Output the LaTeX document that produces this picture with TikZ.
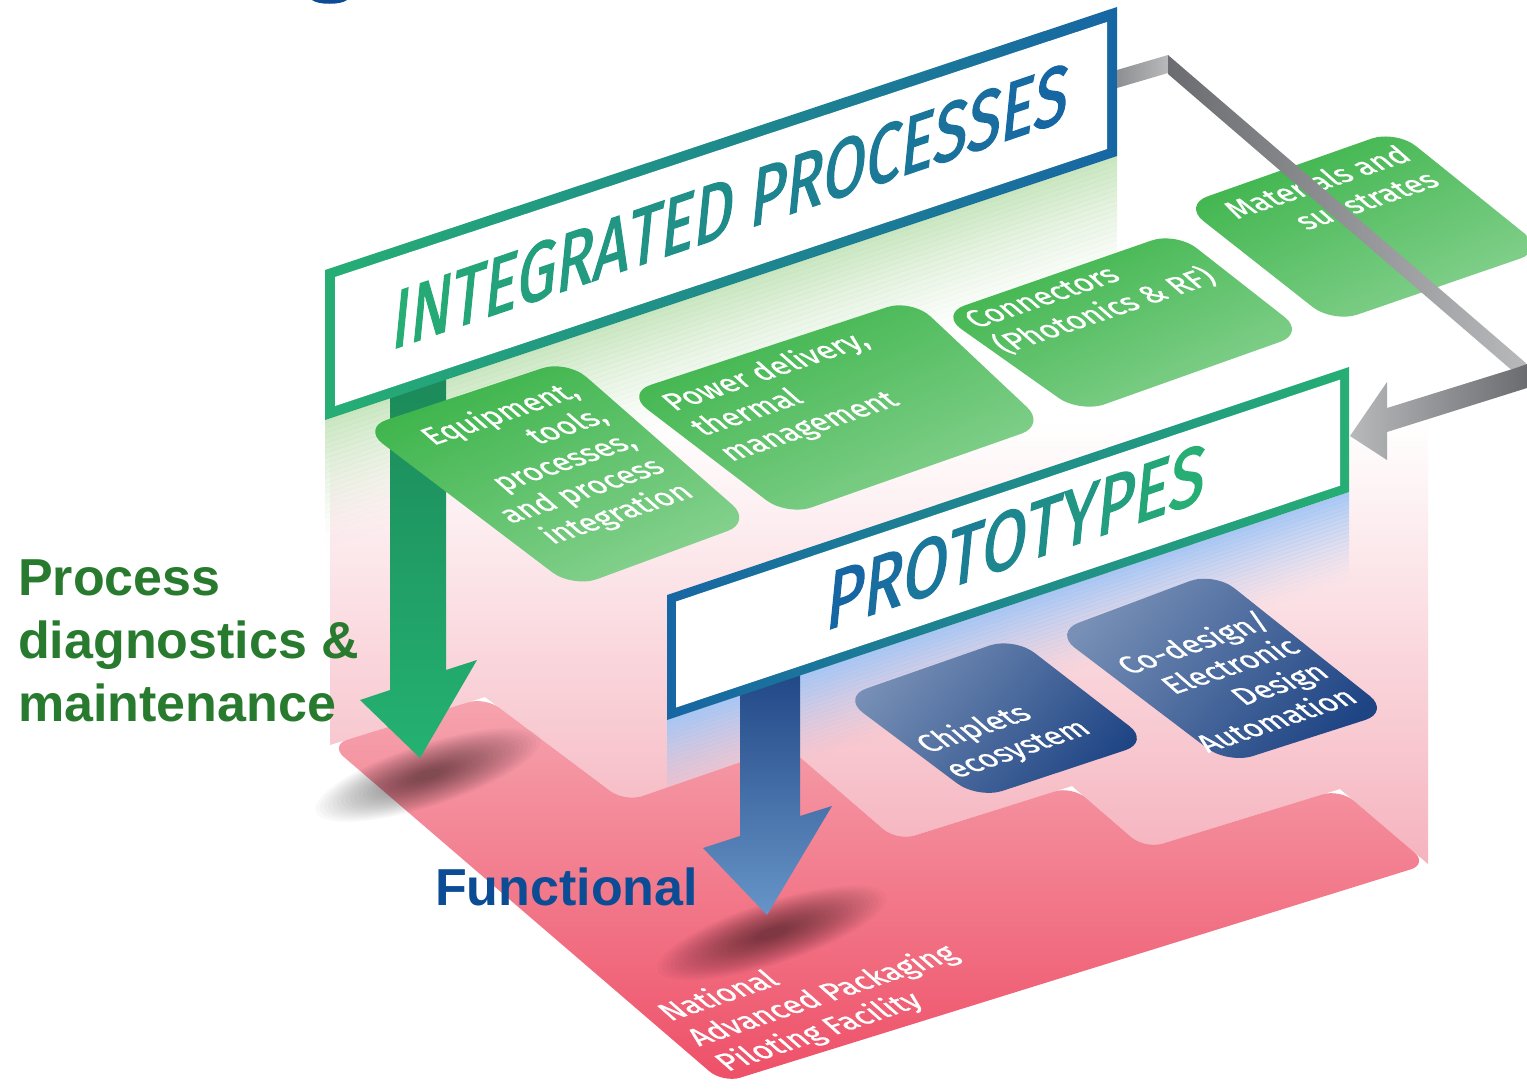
\documentclass[tikz,border=0pt]{standalone}
\usepackage{fontspec}
\setmainfont{Fira Sans}
\newfontfamily\arialfont{Liberation Sans}
\newfontfamily\signfont{Fira Sans}[FakeBold=2]
\newfontfamily\cardfont{Fira Sans}[FakeBold=0.8]
\definecolor{ipgreen}{HTML}{26AE74}
\definecolor{ipblue}{HTML}{1766A4}
\definecolor{cgA}{HTML}{3AB348}
\definecolor{cgB}{HTML}{88D291}
\definecolor{cbA}{HTML}{7890B6}
\definecolor{cbB}{HTML}{1E4484}
\definecolor{floorA}{HTML}{F6A4AF}
\definecolor{floorB}{HTML}{EE4F67}
\definecolor{curtain}{HTML}{F5B3BE}
\definecolor{bandgreen}{HTML}{C4E4BA}
\definecolor{bandblue}{HTML}{A6C6F4}
\definecolor{labgreen}{HTML}{287B2E}
\definecolor{labblue}{HTML}{0B4C94}
\definecolor{garrowA}{HTML}{1C8859}
\definecolor{garrowB}{HTML}{24B271}
\definecolor{barrowA}{HTML}{1E4483}
\definecolor{barrowB}{HTML}{6795C8}
\definecolor{grayA}{HTML}{6B6C70}
\definecolor{grayM}{HTML}{8E8F92}
\definecolor{grayB}{HTML}{B8B9BB}
\newcommand{\myip}[2]{\textcolor{ipblue!#1!ipgreen}{#2}}
\newcommand{\mypt}[2]{\textcolor{ipgreen!#1!ipblue}{#2}}
\begin{document}
\begin{tikzpicture}[x=1pt,y=-1pt,
  cardtext/.style={text=white, font=\cardfont\fontsize{21}{25.5}\selectfont, inner sep=0pt, transform shape},
  signtext/.style={font=\signfont\fontsize{84}{84}\selectfont, inner sep=0pt, transform shape},
  greencard/.style={rounded corners=26pt, top color=cgA, bottom color=cgB, shading angle=25},
  bluecard/.style={rounded corners=26pt, top color=cbA, bottom color=cbB, shading angle=50},
  label/.style={inner sep=0pt, font=\arialfont\bfseries\fontsize{52}{63}\selectfont},
  cardcm/.style={cm={1.36,0.462,-1.12,0.986,(0,0)}}
]
\fill[white] (0,0) rectangle (1527,1088);
\useasboundingbox (0,0) rectangle (1527,1088);

% partial glyph at the top edge
\fill[labblue] (312,0) .. controls (318,5) and (341,5) .. (347,0) -- cycle;

% translucent back curtain
\shade[top color=white, bottom color=curtain] (330,420) -- (1428,420) -- (1428,864) -- (1340,789) -- (1145,849) -- (1072,786) -- (897,841) -- (787,746) -- (625,802) -- (485,697) -- (330,745) -- cycle;

% green glow under the integrated processes sign
\foreach \i in {0,...,25}{
  \pgfmathsetmacro{\op}{0.9*(1-\i/26)^1.6}
  \fill[bandgreen, fill opacity=\op] (325,{418+5*\i}) -- (1117,{155+5*\i}) -- (1117,{160.4+5*\i}) -- (325,{423.4+5*\i}) -- cycle;
}
% blue glow under the prototypes sign
\foreach \i in {0,...,21}{
  \pgfmathsetmacro{\op}{0.95*(1-\i/22)^1.4}
  \fill[bandblue, fill opacity=\op] (667,{720+4*\i}) -- (1349,{492+4*\i}) -- (1349,{496.4+4*\i}) -- (667,{724.4+4*\i}) -- cycle;
}

% floor
\shade[top color=floorA, bottom color=floorB, rounded corners=18pt] (330,745) -- (485,697) -- (625,802) -- (787,746) -- (897,841) -- (1072,786) -- (1145,849) -- (1340,789) -- (1428,864) -- (723,1083) -- cycle;

% soft shadows
\begin{scope}[shift={(428,775)}, rotate=18]
  \foreach \k in {0,...,23} \fill[black, opacity=0.022] (0,0) ellipse [x radius={118-4.5*\k}, y radius={31-1.15*\k}];
\end{scope}
\begin{scope}[shift={(772,933)}, rotate=18]
  \foreach \k in {0,...,23} \fill[black, opacity=0.022] (0,0) ellipse [x radius={120-4.5*\k}, y radius={31-1.15*\k}];
\end{scope}

% green arrow
\shade[top color=garrowA, bottom color=garrowB] (390,360) -- (446,360) -- (446,670) -- (477,660) -- (420,758) -- (360,700) -- (390,690) -- cycle;

% green cards
\shade[greencard] (362,428) -- (567,360) -- (752,522) -- (573,588) -- cycle;
\shade[greencard] (626,393) -- (912,299) -- (1046,425) -- (787,516) -- cycle;
\shade[greencard] (940,314) -- (1176,232) -- (1305,333) -- (1080,413) -- cycle;
\shade[greencard] (1183,205) -- (1396,130) -- (1545,250) -- (1333,323) -- cycle;

\begin{scope}[shift={(563,379)}, cardcm]
  \node[cardtext, anchor=north east, align=right] (eq) at (0,0) {Equipment,\\tools,\\processes,\\and process\\integration};
\end{scope}
\begin{scope}[shift={(656,395)}, cardcm]
  \node[cardtext, anchor=north west, align=left] (pw) at (0,0) {Power delivery,\\thermal\\management};
\end{scope}
\begin{scope}[shift={(960,314)}, cardcm]
  \node[cardtext, anchor=north west, align=left] (cn) at (0,0) {Connectors\\(Photonics \& RF)};
\end{scope}
\begin{scope}[shift={(1395,143)}, cardcm]
  \node[cardtext, anchor=north east, align=right] (ms) at (0,0) {Materials and\\substrates};
\end{scope}

% integrated processes sign
\shade[left color=ipgreen, right color=ipblue] (325,270) -- (1117,7) -- (1117,156) -- (325,420) -- cycle;
\fill[white] (335,277) -- (1107,22) -- (1107,149) -- (335,406) -- cycle;
\begin{scope}[shift={(390,350)}, cm={0.735,0.25,0.1,1,(0,0)}]
  \node[signtext, anchor=base west] (ipt) at (0,0) {\myip{0}{I}\myip{5}{N}\myip{11}{T}\myip{16}{E}\myip{21}{G}\myip{26}{R}\myip{32}{A}\myip{37}{T}\myip{42}{E}\myip{47}{D} \myip{58}{P}\myip{63}{R}\myip{68}{O}\myip{74}{C}\myip{79}{E}\myip{84}{S}\myip{89}{S}\myip{95}{E}\myip{100}{S}};
\end{scope}

% grey feedback connector
\shade[left color=grayM, right color=grayB] (1117,70) -- (1168,55) -- (1168,73) -- (1117,88) -- cycle;
\shade[left color=grayA, right color=grayB] (1168,55) -- (1527,364) -- (1511,369.5) -- (1168,74) -- cycle;
\shade[left color=grayB, right color=grayA] (1527,364) -- (1527,388) -- (1387,432) -- (1387,460) -- (1350,436) -- (1387,382) -- (1387,408) -- (1511,369.5) -- cycle;

% blue arrow
\shade[top color=barrowA, bottom color=barrowB] (740,660) -- (800,660) -- (800,816) -- (832,806) -- (767,915) -- (703,848) -- (740,836) -- cycle;

% prototypes sign
\shade[left color=ipblue, right color=ipgreen] (667,595) -- (1349,367) -- (1349,492) -- (667,720) -- cycle;
\fill[white] (676,601.5) -- (1340,379.7) -- (1340,485.7) -- (676,707.5) -- cycle;
\begin{scope}[shift={(824,631)}, cm={0.775,0.267,0.1,1,(0,0)}]
  \node[signtext, anchor=base west] (ppt) at (0,0) {\mypt{0}{P}\mypt{11}{R}\mypt{22}{O}\mypt{33}{T}\mypt{44}{O}\mypt{56}{T}\mypt{67}{Y}\mypt{78}{P}\mypt{89}{E}\mypt{100}{S}};
\end{scope}

% blue cards
\shade[bluecard] (842,697) -- (1014,637) -- (1150,742) -- (978,799) -- cycle;
\shade[bluecard] (1054,632) -- (1214,572) -- (1390,712) -- (1228,764) -- cycle;
\begin{scope}[shift={(910,737)}, cardcm]
  \node[cardtext, anchor=north west, align=left] (ch) at (0,0) {Chiplets\\ecosystem};
\end{scope}
\begin{scope}[shift={(1255,609)}, cardcm]
  \node[cardtext, anchor=north east, align=right] (cd) at (0,0) {Co-design/\\Electronic\\Design\\Automation};
\end{scope}

% floor caption
\begin{scope}[shift={(652,1005)}, cardcm]
  \node[cardtext, anchor=north west, align=left] (fl) at (0,0) {National\\Advanced Packaging\\Piloting Facility};
\end{scope}

% side labels
\node[label, text=labgreen, anchor=north west, align=left] (pdm) at (18,560) {Process\\diagnostics \&\\maintenance};
\node[label, text=labblue, anchor=base west] (fn) at (435,905) {Functional};
\end{tikzpicture}
\end{document}
